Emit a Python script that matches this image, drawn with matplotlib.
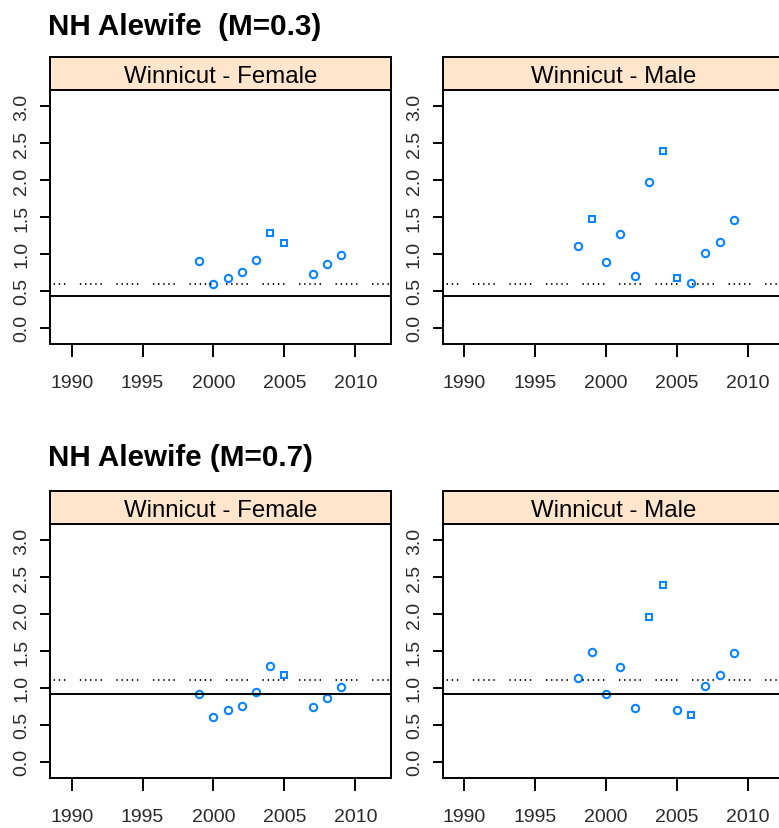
import matplotlib
matplotlib.use("Agg")
from matplotlib import pyplot as plt

plt.rcParams['font.family'] = ['Liberation Sans', 'DejaVu Sans']
plt.rcParams['lines.scale_dashes'] = False

# data
years_f = [1999, 2000, 2001, 2002, 2003, 2004, 2005, 2007, 2008, 2009]
years_m = [1998, 1999, 2000, 2001, 2002, 2003, 2004, 2005, 2006, 2007, 2008, 2009]

female_m03 = [0.90, 0.59, 0.68, 0.75, 0.92, 1.29, 1.15, 0.73, 0.86, 0.985]
female_m03_pch = ['o', 'o', 'o', 'o', 'o', 's', 's', 'o', 'o', 'o']
male_m03 = [1.11, 1.475, 0.895, 1.27, 0.70, 1.97, 2.40, 0.68, 0.61, 1.01, 1.16, 1.46]
male_m03_pch = ['o', 's', 'o', 'o', 'o', 'o', 's', 's', 'o', 'o', 'o', 'o']

female_m07 = [0.92, 0.61, 0.70, 0.76, 0.95, 1.30, 1.17, 0.745, 0.87, 1.01]
female_m07_pch = ['o', 'o', 'o', 'o', 'o', 'o', 's', 'o', 'o', 'o']
male_m07 = [1.13, 1.49, 0.92, 1.28, 0.73, 1.955, 2.39, 0.70, 0.64, 1.02, 1.18, 1.475]
male_m07_pch = ['o', 'o', 'o', 'o', 'o', 's', 's', 'o', 's', 'o', 'o', 'o']

# reference lines (solid, dotted) per M
ref_m03 = (0.43, 0.594)
ref_m07 = (0.917, 1.11)

titles = ['NH Alewife  (M=0.3)', 'NH Alewife (M=0.7)']
strips = ['Winnicut - Female', 'Winnicut - Male']
x_ticks = [1990, 1995, 2000, 2005, 2010]
y_ticks = [0.0, 0.5, 1.0, 1.5, 2.0, 2.5, 3.0]

W, H = 779, 829
fig = plt.figure(figsize=(W / 100, H / 100), dpi=100)

dot_style = (4.8, (1.0, 2.7, 1.0, 2.7, 1.0, 2.7, 1.0, 2.7, 1.0, 10.5))


def px_axes(x0, y0, x1, y1):
    # pixel box (top-left origin) -> figure axes
    return fig.add_axes([x0 / W, 1 - y1 / H, (x1 - x0) / W, (y1 - y0) / H])


def panel(x0, y_top, strip_text, years, vals, pch, ref):
    ax = px_axes(x0, y_top, x0 + 341, y_top + 254)
    for yr, v, p in zip(years, vals, pch):
        ax.plot(yr, v, marker=p, ms=5.3 if p == 'o' else 4.8, mfc='none',
                mec='#0a84ff', mew=1.5, ls='none')
    ax.axhline(ref[0], color='black', lw=1.4)
    ax.axhline(ref[1], color='black', lw=1.3, linestyle=dot_style)
    ax.set_xlim(1988.47, 2012.52)
    ax.set_ylim(-0.22, 3.22)
    ax.set_xticks(x_ticks)
    ax.set_yticks(y_ticks)
    ax.set_yticklabels([f'{t:.1f}' for t in y_ticks], rotation=90, va='center')
    ax.tick_params(axis='x', length=9.4, width=1.4, pad=12, labelsize=14, labelcolor='#2a2a2a')
    ax.tick_params(axis='y', length=7.2, width=1.4, pad=7, labelsize=14, labelcolor='#2a2a2a')
    for s in ax.spines.values():
        s.set_linewidth(1.4)

    st = px_axes(x0, y_top - 33, x0 + 341, y_top)
    st.set_facecolor('#ffe5cc')
    st.set_xticks([])
    st.set_yticks([])
    for s in st.spines.values():
        s.set_linewidth(1.4)
    st.text(0.5, 0.42, strip_text, ha='center', va='center', fontsize=17.3,
            transform=st.transAxes)
    return ax


panel(50, 91, strips[0], years_f, female_m03, female_m03_pch, ref_m03)
panel(442.7, 91, strips[1], years_m, male_m03, male_m03_pch, ref_m03)
panel(50, 525, strips[0], years_f, female_m07, female_m07_pch, ref_m07)
panel(442.7, 525, strips[1], years_m, male_m07, male_m07_pch, ref_m07)

fig.text(48 / W, 1 - 35 / H, titles[0], fontsize=21.3, fontweight='bold', va='baseline')
fig.text(48 / W, 1 - 466 / H, titles[1], fontsize=21.3, fontweight='bold', va='baseline')

fig.savefig('out.png', dpi=100)
